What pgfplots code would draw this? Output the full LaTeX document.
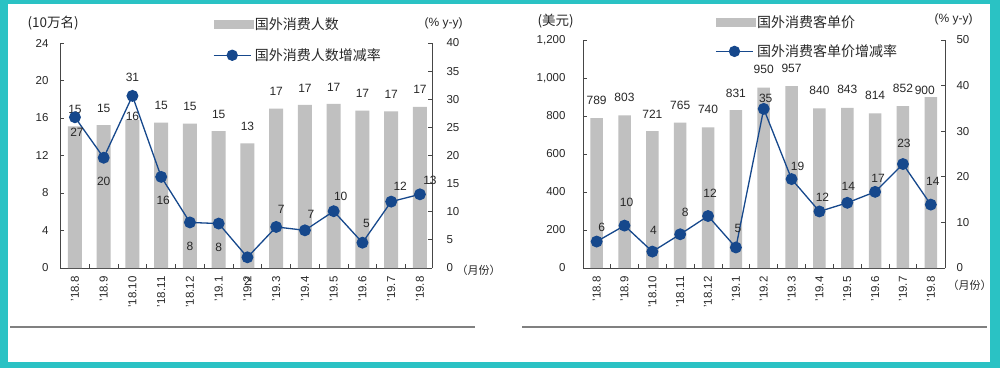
\documentclass[border=0pt]{standalone}
\usepackage{pgfplots}
\pgfplotsset{compat=1.18}
\usepackage{pgfplotstable}
\usepackage{fontspec}
\setmainfont{Liberation Sans}
\newfontfamily\cjk{Noto Sans CJK SC}
\definecolor{framec}{RGB}{42,194,196}
\definecolor{barc}{RGB}{192,192,192}
\definecolor{linec}{RGB}{22,72,140}
\definecolor{axc}{RGB}{70,70,70}
\definecolor{txtc}{RGB}{40,40,40}

\pgfplotstableread{
x bar blab bdx bdy line llab ldx ldy
0 15.1 15 0 17 26.8 27 2 -15
1 15.25 15 0 17 19.6 20 0 -24
2 15.8 16 0 4 30.6 31 0 19
3 15.5 15 0 17 16.2 16 2 -23
4 15.4 15 0 17 8.1 8 0 -24
5 14.6 15 0 17 7.9 8 0 -24
6 13.3 13 0 17 1.9 2 0 -24
7 17.0 17 0 17 7.3 7 5 18
8 17.4 17 0 17 6.7 7 6 16
9 17.5 17 0 17 10.1 10 7 15
10 16.8 17 0 17 4.5 5 4 19
11 16.7 17 0 17 11.8 12 9 15
12 17.2 17 0 17 13.1 13 10 14
}\leftdata

\pgfplotstableread{
x bar blab bdx bdy line llab ldx ldy
0 789 789 0 18 5.8 6 5 14
1 803 803 0 18 9.3 10 2 23
2 721 721 0 17 3.6 4 1 21
3 765 765 0 17 7.4 8 5 22
4 740 740 0 18 11.4 12 2 23
5 831 831 0 17 4.5 5 2 19
6 950 950 0 18 34.9 35 2 10
7 957 957 0 18 19.5 19 6 13
8 840 840 0 18 12.4 12 3 14
9 843 843 0 18 14.3 14 1 16
10 814 814 0 18 16.7 17 3 13
11 852 852 0 18 22.8 23 1 21
12 900 900 -6 7 13.9 14 2 23
}\rightdata

\pgfplotsset{
  common/.style={
    scale only axis, clip=false,
    tick align=inside,
    axis line style={axc, line width=0.8pt},
    every tick/.style={axc, line width=0.8pt},
    major tick length=4pt, minor tick length=4pt,
    tick label style={font=\fontsize{11.5}{12}\selectfont, text=txtc},
    /pgf/number format/assume math mode=true,
    scaled y ticks=false,
    ymin=0,
  },
  barax/.style={
    common,
    axis x line*=bottom, axis y line*=left,
    xtick={0,...,12}, major x tick style={draw=none},
    minor xtick={0.5,1.5,...,11.5},
    xticklabels={'18.8,'18.9,'18.10,'18.11,'18.12,'19.1,'19.2,'19.3,'19.4,'19.5,'19.6,'19.7,'19.8},
    x tick label style={rotate=90, anchor=east, yshift=0pt, xshift=-5pt},
  },
  lineax/.style={
    common,
    axis x line=none, axis y line*=right,
    legend cell align=left,
  },
  barplot/.style={
    ybar, fill=barc, draw=none,
    nodes near coords, point meta=explicit,
    visualization depends on={\thisrow{bdx} \as \bdx},
    visualization depends on={\thisrow{bdy} \as \bdy},
    nodes near coords style={anchor=center, xshift=\bdx pt, yshift=\bdy pt,
      font=\fontsize{12}{12}\selectfont, text=txtc},
  },
  lineplot/.style={
    linec, line width=1.3pt, mark=*, mark size=5.3pt,
    mark options={fill=linec, draw=linec},
    nodes near coords, point meta=explicit,
    visualization depends on={\thisrow{ldx} \as \ldx},
    visualization depends on={\thisrow{ldy} \as \ldy},
    nodes near coords style={anchor=center, xshift=\ldx pt, yshift=\ldy pt,
      font=\fontsize{12}{12}\selectfont, text=txtc},
    legend image code/.code={\draw[linec, line width=1.3pt] (0pt,0pt) -- (37pt,0pt); \fill[linec] (18.5pt,0pt) circle (5pt);},
  },
}

\begin{document}
\begin{tikzpicture}
\useasboundingbox (0,0) rectangle (1000pt,368pt);
\fill[framec] (0,0) rectangle (1000pt,368pt);
\fill[white] (8pt,6pt) rectangle (990pt,364pt);
\draw[gray, line width=2pt] (10pt,41pt) -- (475pt,41pt);
\draw[gray, line width=2pt] (522pt,41pt) -- (987pt,41pt);

% ---------- left panel ----------
\begin{axis}[barax, at={(60pt,100pt)}, anchor=south west,
  width=372pt, height=225pt, xmin=-0.52, xmax=12.42,
  ymax=24, ytick={0,4,...,24},
  y tick label style={xshift=-8pt}]
\addplot[barplot, bar width=14pt] table[x=x, y=bar, meta=blab] {\leftdata};
\end{axis}
\begin{axis}[lineax, at={(60pt,100pt)}, anchor=south west,
  width=372pt, height=225pt, xmin=-0.52, xmax=12.42,
  ymax=40, ytick={0,5,...,40},
  y tick label style={xshift=11pt},
  legend style={draw=none, fill=none, inner sep=0pt, at={(0.411,1.124)}, anchor=north west,
    font=\cjk\fontsize{14}{14}\selectfont, text=txtc, row sep=14pt}]
\addlegendimage{legend image code/.code={\fill[barc] (0pt,-4pt) rectangle (39pt,4pt);}}
\addlegendentry{国外消费人数}
\addplot[lineplot] table[x=x, y=line, meta=llab] {\leftdata};
\addlegendentry{国外消费人数增减率}
\end{axis}
\node[anchor=west, text=txtc, font=\cjk\fontsize{13.5}{14}\selectfont] at (24pt,345pt) {(10万名)};
\node[anchor=west, text=txtc, font=\fontsize{12}{12}\selectfont] at (421pt,345pt) {(\% y-y)};
\node[anchor=west, text=txtc, font=\cjk\fontsize{11}{11}\selectfont] at (453pt,98pt) {（月份）};

% ---------- right panel ----------
\begin{axis}[barax, at={(583pt,100pt)}, anchor=south west,
  width=362pt, height=228pt, xmin=-0.49, xmax=12.51,
  ymax=1200, ytick={0,200,...,1200},
  y tick label style={xshift=-14pt}]
\addplot[barplot, bar width=12.5pt] table[x=x, y=bar, meta=blab] {\rightdata};
\end{axis}
\begin{axis}[lineax, at={(583pt,100pt)}, anchor=south west,
  width=362pt, height=228pt, xmin=-0.49, xmax=12.51,
  ymax=50, ytick={0,10,...,50},
  y tick label style={xshift=8pt},
  legend style={draw=none, fill=none, inner sep=0pt, at={(0.365,1.118)}, anchor=north west,
    font=\cjk\fontsize{14}{14}\selectfont, text=txtc, row sep=12pt}]
\addlegendimage{legend image code/.code={\fill[barc] (0pt,-4pt) rectangle (39pt,4pt);}}
\addlegendentry{国外消费客单价}
\addplot[lineplot] table[x=x, y=line, meta=llab] {\rightdata};
\addlegendentry{国外消费客单价增减率}
\end{axis}
\node[anchor=west, text=txtc, font=\cjk\fontsize{13.5}{14}\selectfont] at (534pt,347pt) {(美元)};
\node[anchor=west, text=txtc, font=\fontsize{12}{12}\selectfont] at (931pt,349pt) {(\% y-y)};
\node[anchor=west, text=txtc, font=\cjk\fontsize{11}{11}\selectfont] at (944pt,83pt) {（月份）};
\end{tikzpicture}
\end{document}
